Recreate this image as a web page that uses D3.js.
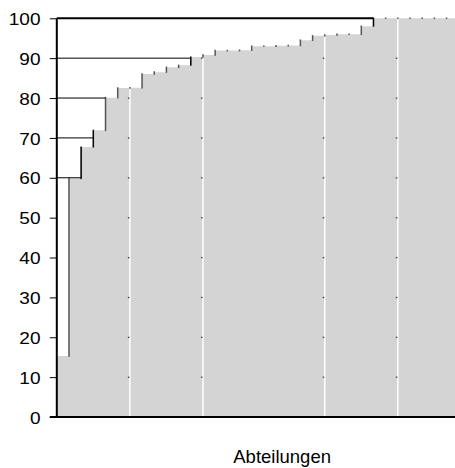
<!DOCTYPE html>
<html>
<head>
<meta charset="utf-8">
<script src="https://cdn.jsdelivr.net/npm/d3@7"></script>
<style>
html,body{margin:0;padding:0;background:#fff;overflow:hidden;}
svg{display:block;}
text{font-family:"Liberation Sans",Arial,sans-serif;fill:#000;}
</style>
</head>
<body>
<svg id="chart" width="455" height="468"></svg>
<script>
// cumulative share (%) per department, sorted
const values = [15.3, 59.8, 67.7, 71.9, 80.1, 82.5, 82.6, 86.0, 86.5, 87.7, 88.2,
  90.3, 90.8, 91.9, 91.9, 92.0, 93.0, 93.0, 93.1, 93.2, 94.5, 95.6, 95.8, 96.0,
  96.0, 98.0, 100, 100, 100, 100, 100, 100, 100, 100, 100, 100, 100];
const categories = values.map((d, i) => "A" + (i + 1));
const yTicks = [0, 10, 20, 30, 40, 50, 60, 70, 80, 90, 100];
const refLevels = [60, 70, 80, 90, 100];
const gridBoundaries = [6, 12, 22, 28];
const xTitle = "Abteilungen";

(function () {
const svg = d3.select("#chart");
const mLeft = 56.8, mTop = 18.3, mBottom = 417;
const step = 12.18;
const mRight = mLeft + step * categories.length;

const x = d3.scaleBand().domain(categories).range([mLeft, mRight]).paddingInner(0).paddingOuter(0);
const y = d3.scaleLinear().domain([0, 100]).range([mBottom, mTop]);
const xb = i => (i < categories.length ? x(categories[i]) : x(categories[categories.length - 1]) + x.bandwidth());

// area (step)
const pts = [];
values.forEach((v, i) => { pts.push([xb(i), v]); pts.push([xb(i + 1), v]); });
const area = d3.area().x(d => d[0]).y0(y(0)).y1(d => y(d[1]));
svg.append("path").attr("d", area(pts)).attr("fill", "#d4d4d4");

// white vertical gridlines
gridBoundaries.forEach(b => {
  const xv = xb(b);
  const vTop = Math.min(values[b - 1], values[b]);
  svg.append("line").attr("x1", xv).attr("x2", xv).attr("y1", y(0)).attr("y2", y(vTop))
    .attr("stroke", "#fff").attr("stroke-width", 1.5);
  yTicks.filter(t => t > 0 && t < vTop).forEach(t => {
    svg.append("rect").attr("x", xv - 2).attr("y", y(t) - 0.5).attr("width", 1.5).attr("height", 1.2)
      .attr("fill", "#333");
  });
});

// step verticals
for (let i = 1; i < values.length; i++) {
  const xv = xb(i);
  svg.append("line").attr("x1", xv).attr("x2", xv)
    .attr("y1", y(values[i - 1])).attr("y2", y(values[i]))
    .attr("stroke", "#555").attr("stroke-width", 1.5).attr("stroke-linecap", "square");
}

// reference lines
refLevels.forEach(L => {
  const idx = values.findIndex(v => v >= L);
  const xe = xb(idx);
  svg.append("line").attr("x1", mLeft).attr("x2", xe).attr("y1", y(L)).attr("y2", y(L))
    .attr("stroke", "#000").attr("stroke-width", L === 100 ? 2 : 1);
  const prev = idx > 0 ? values[idx - 1] : 0;
  if (L - prev < 5) {
    svg.append("line").attr("x1", xe).attr("x2", xe).attr("y1", y(prev)).attr("y2", y(values[idx]))
      .attr("stroke", "#000").attr("stroke-width", 1.2);
  }
});

// axes
const yAxis = d3.axisLeft(y).tickValues(yTicks).tickSize(7).tickFormat("");
const gy = svg.append("g").attr("transform", `translate(${mLeft},0)`).call(yAxis);
gy.select(".domain").remove();
gy.selectAll(".tick line").attr("stroke", "#000").attr("stroke-width", 1);
svg.append("line").attr("x1", mLeft).attr("x2", mLeft).attr("y1", mTop).attr("y2", mBottom + 1)
  .attr("stroke", "#000").attr("stroke-width", 2);
svg.append("line").attr("x1", mLeft - 7).attr("x2", mRight).attr("y1", mBottom).attr("y2", mBottom)
  .attr("stroke", "#000").attr("stroke-width", 2);

yTicks.forEach(t => {
  svg.append("text").attr("transform", `translate(40.5,${y(t) + 6.6}) scale(1.12,1)`)
    .attr("text-anchor", "end").style("font-size", "17px").text(t);
});

svg.append("text").attr("x", (mLeft + mRight) / 2).attr("y", 462.7)
  .attr("text-anchor", "middle").style("font-size", "18.5px").text(xTitle);
})();
</script>
</body>
</html>
